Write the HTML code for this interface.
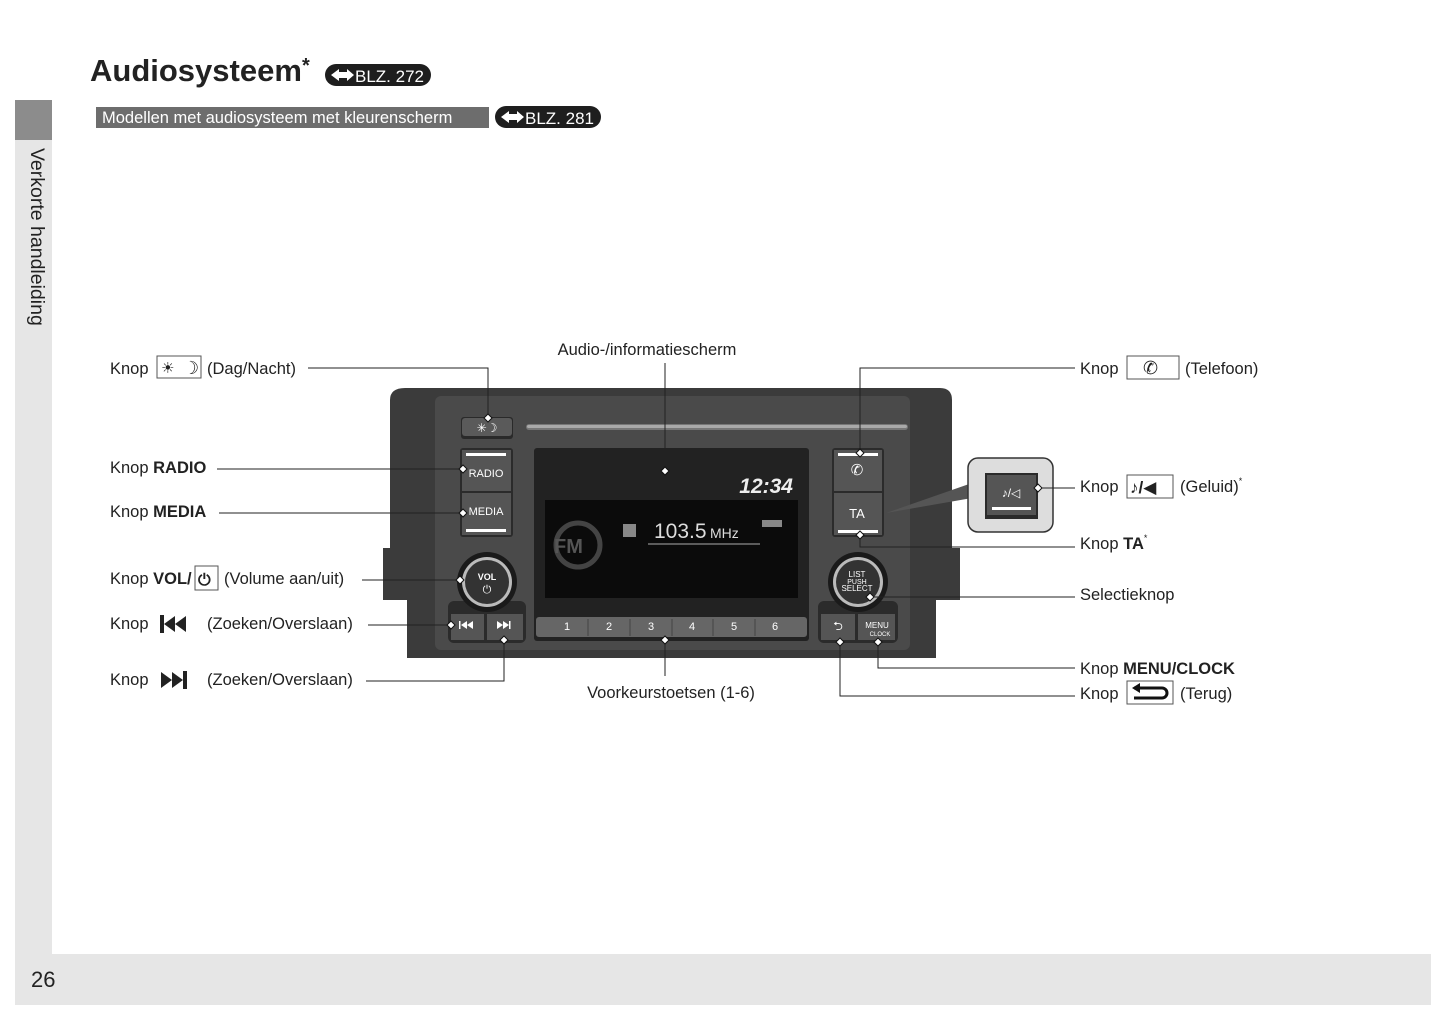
<!DOCTYPE html>
<html><head><meta charset="utf-8"><style>
html,body{margin:0;padding:0;background:#fff}
svg{display:block}
text{font-family:"Liberation Sans","DejaVu Sans",sans-serif}
</style></head><body>
<svg width="1445" height="1019" viewBox="0 0 1445 1019" xmlns="http://www.w3.org/2000/svg">
<!-- sidebar & footer -->
<rect x="15" y="100" width="37" height="905" fill="#e6e6e6"/>
<rect x="15" y="100" width="37" height="40" fill="#8c8c8c"/>
<rect x="15" y="954" width="1416" height="51" fill="#e6e6e6"/>
<text x="31" y="148" font-size="19.5" fill="#222" transform="rotate(90 31 148)">Verkorte handleiding</text>
<text x="31" y="987" font-size="22" fill="#222">26</text>
<!-- title -->
<text x="90" y="81" font-size="31" font-weight="bold" fill="#222">Audiosysteem</text>
<text x="302" y="72" font-size="20" font-weight="bold" fill="#222">*</text>
<rect x="325" y="64" width="106" height="22" rx="11" fill="#1e1e1e"/>
<path d="M331 75 l8 -6 v3 h8 v-3 l7 6 -7 6 v-3 h-8 v3z" fill="#fff"/>
<text x="355" y="82" font-size="17" fill="#fff">BLZ. 272</text>
<rect x="96" y="107" width="393" height="21" fill="#6d6d6d"/>
<text x="102" y="123" font-size="16.5" fill="#fff">Modellen met audiosysteem met kleurenscherm</text>
<rect x="495" y="106" width="106" height="22" rx="11" fill="#1e1e1e"/>
<path d="M501 117 l8 -6 v3 h8 v-3 l7 6 -7 6 v-3 h-8 v3z" fill="#fff"/>
<text x="525" y="124" font-size="17" fill="#fff">BLZ. 281</text>

<!-- device body -->
<path d="M405 388 H940 Q952 388 952 400 V548 H960 V600 H936 V658 H407 V600 H383 V548 H390 V400 Q390 388 405 388Z" fill="#3b3b3b"/>
<rect x="435" y="396" width="475" height="254" rx="6" fill="#4a4a4a"/>
<rect x="526" y="424" width="382" height="6" rx="3" fill="#777"/>
<rect x="527" y="425" width="380" height="3" rx="1.5" fill="#a9a9a9"/>
<!-- day/night -->
<rect x="461" y="417" width="52" height="22" rx="3" fill="#2a2a2a"/>
<rect x="462" y="418" width="50" height="18" rx="3" fill="#5a5a5a"/>
<text x="487" y="432" font-size="12" fill="#fff" text-anchor="middle">✳☽</text>
<!-- radio/media -->
<rect x="460" y="448" width="53" height="89" rx="3" fill="#2b2b2b"/>
<rect x="462" y="450" width="49" height="41" fill="#555"/>
<rect x="462" y="493" width="49" height="42" fill="#555"/>
<rect x="466" y="453" width="40" height="3" fill="#fff"/>
<rect x="466" y="529" width="40" height="3" fill="#fff"/>
<text x="486" y="477" font-size="11" fill="#fff" text-anchor="middle">RADIO</text>
<text x="486" y="515" font-size="11" fill="#fff" text-anchor="middle">MEDIA</text>
<!-- phone/TA -->
<rect x="832" y="448" width="52" height="89" rx="3" fill="#2b2b2b"/>
<rect x="834" y="450" width="48" height="41" fill="#555"/>
<rect x="834" y="493" width="48" height="42" fill="#555"/>
<rect x="838" y="453" width="40" height="3" fill="#fff"/>
<rect x="838" y="530" width="40" height="3" fill="#fff"/>
<text x="857" y="475" font-size="15" fill="#fff" text-anchor="middle">✆</text>
<text x="857" y="518" font-size="13" fill="#fff" text-anchor="middle">TA</text>
<!-- sound callout -->
<path d="M886 513 L972 483 L972 498 Z" fill="#555"/>
<rect x="968" y="458" width="85" height="74" rx="10" fill="#ddd" stroke="#333" stroke-width="1.5"/>
<rect x="985" y="473" width="53" height="46" fill="#2b2b2b"/>
<rect x="987" y="475" width="49" height="40" fill="#555"/>
<rect x="992" y="507" width="39" height="3" fill="#fff"/>
<text x="1011" y="497" font-size="12" fill="#fff" text-anchor="middle">♪/◁</text>
<!-- screen -->
<rect x="534" y="448" width="275" height="193" rx="3" fill="#222"/>
<rect x="545" y="465" width="253" height="143" fill="#0b0b0b"/>
<rect x="545" y="465" width="253" height="35" fill="#222"/>
<text x="793" y="493" font-size="21" font-weight="bold" font-style="italic" fill="#eee" text-anchor="end">12:34</text>
<rect x="623" y="524" width="13" height="13" fill="#888"/>
<text x="654" y="538" font-size="21" fill="#ddd">103.5</text>
<text x="710" y="538" font-size="14" fill="#ddd">MHz</text>
<rect x="762" y="520" width="20" height="7" fill="#888"/>
<line x1="648" y1="544" x2="760" y2="544" stroke="#777" stroke-width="1.5"/>
<circle cx="578" cy="545" r="22" fill="none" stroke="#444" stroke-width="5"/>
<text x="554" y="553" font-size="20" font-weight="bold" fill="#555">FM</text>
<rect x="545" y="598" width="253" height="10" fill="#222"/>
<rect x="536" y="617" width="271" height="20" rx="3" fill="#666"/>
<g fill="#fff" font-size="11" text-anchor="middle">
<text x="567" y="630">1</text><text x="609" y="630">2</text><text x="651" y="630">3</text><text x="692" y="630">4</text><text x="734" y="630">5</text><text x="775" y="630">6</text></g>
<g stroke="#444"><line x1="588" y1="619" x2="588" y2="636"/><line x1="630" y1="619" x2="630" y2="636"/><line x1="672" y1="619" x2="672" y2="636"/><line x1="713" y1="619" x2="713" y2="636"/><line x1="755" y1="619" x2="755" y2="636"/></g>
<!-- seek buttons -->
<rect x="448" y="601" width="78" height="42" rx="6" fill="#2b2b2b"/>
<rect x="451" y="614" width="33" height="26" fill="#555"/>
<rect x="487" y="614" width="36" height="26" fill="#555"/>
<path d="M459 621 h1.5 v8 h-1.5z M461 625 l6 -4 v8z M467 625 l6 -4 v8z" fill="#fff"/>
<path d="M497 621 l6 4 -6 4z M503 621 l6 4 -6 4z M509 621 h1.5 v8 h-1.5z" fill="#fff"/>
<!-- VOL knob -->
<circle cx="487" cy="582" r="30" fill="#1a1a1a"/>
<circle cx="487" cy="582" r="25" fill="#bbb"/>
<circle cx="487" cy="582" r="22" fill="#333"/>
<text x="487" y="580" font-size="9" font-weight="bold" fill="#fff" text-anchor="middle">VOL</text>
<text x="487" y="593" font-size="11" fill="#fff" text-anchor="middle">⏻</text>
<!-- back/menu -->
<rect x="818" y="601" width="80" height="42" rx="6" fill="#2b2b2b"/>
<rect x="821" y="614" width="34" height="26" fill="#555"/>
<rect x="858" y="614" width="37" height="26" fill="#555"/>
<text x="838" y="630" font-size="12" fill="#fff" text-anchor="middle">⮌</text>
<text x="877" y="628" font-size="8" fill="#fff" text-anchor="middle">MENU</text>
<text x="880" y="636" font-size="6" fill="#fff" text-anchor="middle">CLOCK</text>
<!-- select knob -->
<circle cx="858" cy="582" r="30" fill="#1a1a1a"/>
<circle cx="858" cy="582" r="25" fill="#bbb"/>
<circle cx="858" cy="582" r="22" fill="#333"/>
<text x="857" y="577" font-size="8" fill="#fff" text-anchor="middle">LIST</text>
<text x="857" y="584" font-size="7" fill="#fff" text-anchor="middle">PUSH</text>
<text x="857" y="591" font-size="8" fill="#fff" text-anchor="middle">SELECT</text>

<!-- leader lines -->
<g stroke="#222" stroke-width="1" fill="none">
<polyline points="308,368 488,368 488,418"/>
<line x1="217" y1="469" x2="463" y2="469"/>
<line x1="219" y1="513" x2="463" y2="513"/>
<line x1="362" y1="580" x2="460" y2="580"/>
<line x1="368" y1="625" x2="451" y2="625"/>
<polyline points="366,681 504,681 504,640"/>
<line x1="665" y1="363" x2="665" y2="471"/>
<line x1="665" y1="640" x2="665" y2="676"/>
<polyline points="1075,368 860,368 860,453"/>
<line x1="1040" y1="488" x2="1075" y2="488"/>
<polyline points="1075,547 860,547 860,535"/>
<line x1="870" y1="597" x2="1075" y2="597"/>
<polyline points="1075,668 878,668 878,642"/>
<polyline points="1075,696 840,696 840,642"/>
</g>
<g fill="#fff" stroke="#111" stroke-width="1">
<path d="M488 414 l4 4 -4 4 -4 -4z"/>
<path d="M463 465 l4 4 -4 4 -4 -4z"/>
<path d="M463 509 l4 4 -4 4 -4 -4z"/>
<path d="M460 576 l4 4 -4 4 -4 -4z"/>
<path d="M451 621 l4 4 -4 4 -4 -4z"/>
<path d="M504 636 l4 4 -4 4 -4 -4z"/>
<path d="M665 467 l4 4 -4 4 -4 -4z"/>
<path d="M665 636 l4 4 -4 4 -4 -4z"/>
<path d="M860 449 l4 4 -4 4 -4 -4z"/>
<path d="M1038 484 l4 4 -4 4 -4 -4z"/>
<path d="M860 531 l4 4 -4 4 -4 -4z"/>
<path d="M870 593 l4 4 -4 4 -4 -4z"/>
<path d="M878 638 l4 4 -4 4 -4 -4z"/>
<path d="M840 638 l4 4 -4 4 -4 -4z"/>
</g>

<!-- labels -->
<g font-size="16.5" fill="#222">
<text x="110" y="374">Knop</text>
<rect x="157" y="356" width="44" height="22" fill="#fff" stroke="#555"/>
<text x="161" y="373" font-size="15">☀</text><text x="183" y="374" font-size="18" font-weight="bold">☽</text>
<text x="207" y="374">(Dag/Nacht)</text>
<text x="110" y="473">Knop <tspan font-weight="bold">RADIO</tspan></text>
<text x="110" y="517">Knop <tspan font-weight="bold">MEDIA</tspan></text>
<text x="110" y="584">Knop <tspan font-weight="bold">VOL/</tspan></text>
<rect x="195" y="566" width="23" height="24" fill="#fff" stroke="#555"/>
<text x="198" y="585" font-size="16" font-weight="bold">⏻</text>
<text x="224" y="584">(Volume aan/uit)</text>
<text x="110" y="629">Knop</text>
<path d="M160 615 h4 v18 h-4z M164 624 l11 -8 v16z M175 624 l11 -8 v16z" fill="#222"/>
<text x="207" y="629">(Zoeken/Overslaan)</text>
<text x="110" y="685">Knop</text>
<path d="M161 672 l11 8 -11 8z M172 672 l11 8 -11 8z M183 671 h4 v18 h-4z" fill="#222"/>
<text x="207" y="685">(Zoeken/Overslaan)</text>
<text x="647" y="355" text-anchor="middle">Audio-/informatiescherm</text>
<text x="671" y="698" text-anchor="middle">Voorkeurstoetsen (1-6)</text>
<text x="1080" y="374">Knop</text>
<rect x="1127" y="356" width="52" height="23" fill="#fff" stroke="#555"/>
<text x="1143" y="374" font-size="18">✆</text>
<text x="1185" y="374">(Telefoon)</text>
<text x="1080" y="492">Knop</text>
<rect x="1127" y="475" width="46" height="23" fill="#fff" stroke="#555"/>
<text x="1130" y="493" font-size="17" font-weight="bold">♪/◀</text>
<text x="1180" y="492">(Geluid)<tspan font-size="9" dy="-8">*</tspan></text>
<text x="1080" y="549">Knop <tspan font-weight="bold">TA</tspan><tspan font-size="9" dy="-8">*</tspan></text>
<text x="1080" y="600">Selectieknop</text>
<text x="1080" y="674">Knop <tspan font-weight="bold">MENU/CLOCK</tspan></text>
<text x="1080" y="699">Knop</text>
<rect x="1127" y="681" width="46" height="23" fill="#fff" stroke="#555"/>
<path d="M1134 688 h28 a5 5 0 0 1 0 10 h-28" fill="none" stroke="#111" stroke-width="3"/>
<path d="M1132 688 l8 -5 v10z" fill="#111"/>
<text x="1180" y="699">(Terug)</text>
</g>
</svg>
</body></html>
